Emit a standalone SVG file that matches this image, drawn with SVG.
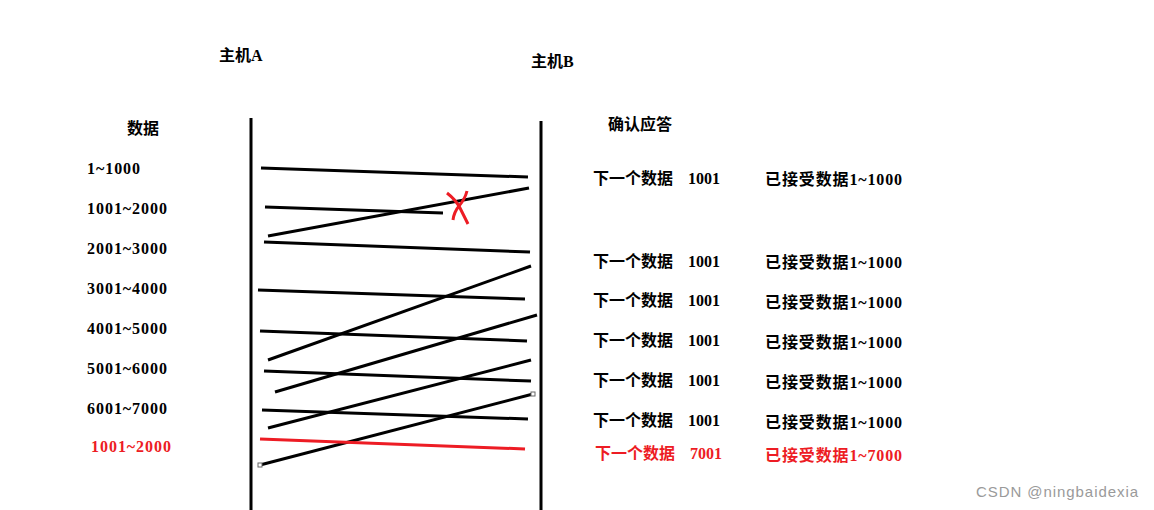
<svg xmlns="http://www.w3.org/2000/svg" width="1154" height="510" viewBox="0 0 1154 510">
<style>
text{font-family:"Liberation Serif","Noto Sans CJK SC",serif;font-size:16px;font-weight:bold;fill:#000}
.red{fill:#ed1c24}
.ln{stroke:#000;stroke-width:3;fill:none}
.rl{stroke:#ed1c24;stroke-width:3;fill:none}
.wm{font-family:"Liberation Sans",sans-serif;font-weight:normal;font-size:15px;fill:#9a9a9a}
</style>
<rect width="1154" height="510" fill="#fff"/>
<g id="hostA">
<line class="ln" x1="251" y1="118" x2="251" y2="510"/>
<text x="219" y="61">主机A</text>
</g>
<g id="hostB">
<line class="ln" x1="541" y1="121" x2="541" y2="510"/>
<text x="531" y="67">主机B</text>
</g>
<g id="data-labels">
<text x="127" y="134">数据</text>
<text x="87" y="174" textLength="53" lengthAdjust="spacing">1~1000</text>
<text x="87" y="214" textLength="80" lengthAdjust="spacing">1001~2000</text>
<text x="87" y="254" textLength="80" lengthAdjust="spacing">2001~3000</text>
<text x="87" y="294" textLength="80" lengthAdjust="spacing">3001~4000</text>
<text x="87" y="334" textLength="80" lengthAdjust="spacing">4001~5000</text>
<text x="87" y="374" textLength="80" lengthAdjust="spacing">5001~6000</text>
<text x="87" y="414" textLength="80" lengthAdjust="spacing">6001~7000</text>
<text class="red" x="91" y="452" textLength="80" lengthAdjust="spacing">1001~2000</text>
</g>
<g id="ack-labels">
<text x="608" y="130">确认应答</text>
<text x="593" y="184">下一个数据<tspan x="688">1001</tspan></text>
<text x="765" y="185" textLength="137" lengthAdjust="spacing">已接受数据1~1000</text>
<text x="593" y="267">下一个数据<tspan x="688">1001</tspan></text>
<text x="765" y="268" textLength="137" lengthAdjust="spacing">已接受数据1~1000</text>
<text x="593" y="306">下一个数据<tspan x="688">1001</tspan></text>
<text x="765" y="308" textLength="137" lengthAdjust="spacing">已接受数据1~1000</text>
<text x="593" y="346">下一个数据<tspan x="688">1001</tspan></text>
<text x="765" y="348" textLength="137" lengthAdjust="spacing">已接受数据1~1000</text>
<text x="593" y="386">下一个数据<tspan x="688">1001</tspan></text>
<text x="765" y="388" textLength="137" lengthAdjust="spacing">已接受数据1~1000</text>
<text x="593" y="426">下一个数据<tspan x="688">1001</tspan></text>
<text x="765" y="428" textLength="137" lengthAdjust="spacing">已接受数据1~1000</text>
<text class="red" x="595" y="459">下一个数据<tspan x="690">7001</tspan></text>
<text class="red" x="765" y="461" textLength="137" lengthAdjust="spacing">已接受数据1~7000</text>
</g>
<g id="connectors">
<line class="ln" x1="261" y1="168" x2="528" y2="177"/>
<line class="ln" x1="265" y1="207" x2="443" y2="213"/>
<line class="ln" x1="268" y1="236" x2="529" y2="188"/>
<line class="ln" x1="264" y1="242" x2="530" y2="252"/>
<line class="ln" x1="268" y1="360" x2="531" y2="266"/>
<line class="ln" x1="258" y1="290" x2="525" y2="299"/>
<line class="ln" x1="260" y1="331" x2="527" y2="341"/>
<line class="ln" x1="275" y1="392" x2="537" y2="315"/>
<line class="ln" x1="264" y1="371" x2="531" y2="381"/>
<line class="ln" x1="268" y1="428" x2="531" y2="360"/>
<line class="ln" x1="262" y1="410" x2="528" y2="419"/>
<line class="ln" x1="260" y1="465" x2="533" y2="394"/>
<rect x="258" y="463" width="4" height="4" fill="#fff" stroke="#666" stroke-width="1"/>
<rect x="531" y="392" width="4" height="4" fill="#fff" stroke="#666" stroke-width="1"/>
<line class="rl" x1="260" y1="439" x2="525" y2="449"/>
<path class="rl" d="M447,193 Q456,200 460,208 Q464,216 468,224"/>
<path class="rl" d="M467,191 Q465,199 459,206 Q454,212 453,220"/>
</g>
<text class="wm" x="976" y="497" textLength="162" lengthAdjust="spacing">CSDN @ningbaidexia</text>
</svg>
